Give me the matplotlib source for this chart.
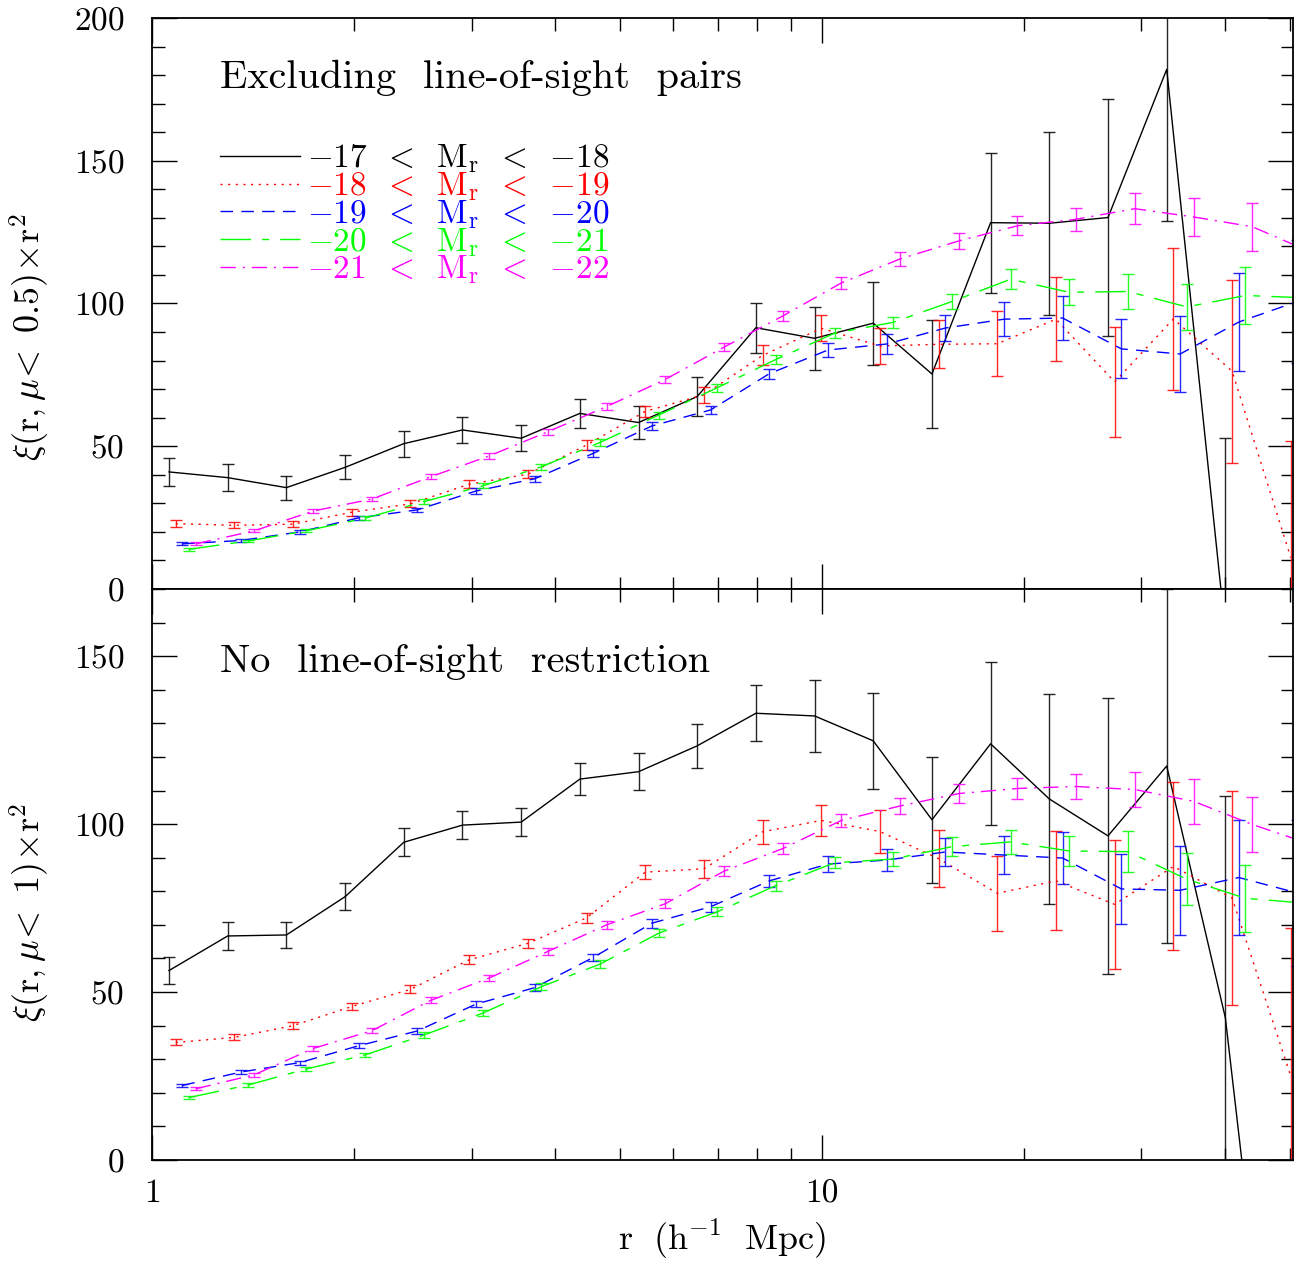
import matplotlib
matplotlib.use('Agg')
import matplotlib.pyplot as plt
from matplotlib.ticker import FixedLocator, NullFormatter, FixedFormatter, MultipleLocator
from matplotlib.lines import Line2D

plt.rcParams['font.family'] = 'cmr10'
plt.rcParams['mathtext.fontset'] = 'cm'
plt.rcParams['axes.formatter.use_mathtext'] = True
plt.rcParams['axes.unicode_minus'] = False

# bin centres (h^-1 Mpc)
r = [1.060, 1.297, 1.587, 1.942, 2.376, 2.907, 3.557, 4.352, 5.324, 6.514,
     7.970, 9.752, 11.93, 14.60, 17.86, 21.85, 26.74, 32.72, 40.03, 48.98]

labels = [r'${-}17\;\;<\;\;\mathrm{M_r}\;\;<\;\;{-}18$',
          r'${-}18\;\;<\;\;\mathrm{M_r}\;\;<\;\;{-}19$',
          r'${-}19\;\;<\;\;\mathrm{M_r}\;\;<\;\;{-}20$',
          r'${-}20\;\;<\;\;\mathrm{M_r}\;\;<\;\;{-}21$',
          r'${-}21\;\;<\;\;\mathrm{M_r}\;\;<\;\;{-}22$']
colors = ['black', '#ff0000', '#0000ff', '#00ff00', '#ff00ff']
styles = ['-', (0, (1.5, 4)), (0, (9, 6)), (0, (22, 8, 5, 8)), (0, (11, 5, 1.5, 5))]

# xi(r, mu<0.5) r^2  -- excluding line-of-sight pairs
top_m17 = [41.0, 39.0, 35.5, 42.6, 50.9, 55.7, 52.8, 61.5, 58.3, 67.4,
           91.5, 87.8, 93.1, 75.3, 128.3, 128.1, 130.1, 182.0, -15.0, -120.0]
top_m17_err = [4.9, 4.7, 4.2, 4.2, 4.5, 4.7, 4.5, 5.0, 5.7, 6.9,
               8.8, 11.0, 14.5, 19.0, 24.5, 32.0, 41.5, 53.0, 68.0, 90.0]
top_m18 = [22.9, 22.3, 22.7, 26.9, 29.8, 36.7, 40.2, 50.4, 62.2, 68.0,
           81.8, 91.3, 85.1, 85.7, 85.9, 94.5, 72.5, 94.6, 76.3, 11.0]
top_m18_err = [1.1, 1.0, 1.0, 1.2, 1.2, 1.3, 1.4, 1.75, 2.0, 2.7,
               3.5, 4.6, 6.4, 8.4, 11.3, 14.6, 19.4, 25.0, 32.0, 41.0]
top_m19 = [15.8, 17.0, 20.0, 24.9, 27.7, 34.3, 38.6, 47.5, 57.1, 62.7,
           75.4, 83.7, 85.8, 91.4, 94.5, 94.9, 84.1, 82.3, 93.5, 100.7]
top_m19_err = [0.5, 0.5, 0.6, 0.7, 0.8, 0.9, 1.0, 1.1, 1.3, 1.5,
               1.8, 2.4, 3.4, 4.4, 5.9, 7.8, 10.3, 13.4, 17.0, 21.5]
top_m20 = [13.9, 16.8, 20.4, 24.8, 30.6, 36.1, 42.8, 51.3, 60.9, 70.5,
           80.4, 89.6, 93.4, 100.7, 108.5, 103.9, 104.2, 98.8, 102.8, 102.0]
top_m20_err = [0.5, 0.5, 0.6, 0.7, 0.8, 0.9, 1.0, 1.1, 1.2, 1.4,
               1.5, 1.7, 2.0, 2.6, 3.5, 4.5, 6.0, 8.0, 10.0, 13.0]
top_m21 = [15.8, 20.4, 27.3, 31.5, 39.3, 46.6, 55.1, 63.9, 73.4, 84.7,
           95.6, 107.2, 115.6, 121.9, 127.2, 129.5, 133.2, 130.3, 126.9, 118.0]
top_m21_err = [0.5, 0.6, 0.7, 0.8, 0.9, 1.0, 1.1, 1.2, 1.3, 1.5,
               1.7, 2.0, 2.4, 2.8, 3.3, 4.0, 5.4, 6.8, 8.4, 10.5]

# xi(r, mu<1) r^2  -- no line-of-sight restriction
bot_m17 = [56.4, 66.7, 67.0, 78.4, 94.6, 99.7, 100.6, 113.4, 115.6, 123.3,
           133.0, 132.2, 124.8, 101.3, 123.9, 107.5, 96.5, 117.3, 42.3, -109.0]
bot_m17_err = [4.0, 4.3, 4.0, 4.0, 4.1, 4.1, 4.2, 4.8, 5.5, 6.6,
               8.4, 10.6, 14.3, 18.8, 24.3, 31.2, 41.0, 52.7, 66.0, 85.0]
bot_m18 = [35.0, 36.5, 40.0, 45.7, 50.8, 59.6, 64.5, 72.1, 85.7, 86.7,
           97.7, 101.1, 97.8, 89.7, 79.4, 83.1, 76.1, 87.4, 78.0, 25.0]
bot_m18_err = [0.9, 0.9, 1.0, 1.1, 1.2, 1.3, 1.4, 1.5, 2.0, 2.6,
               3.5, 4.6, 6.3, 8.4, 11.2, 14.7, 19.3, 25.0, 32.0, 44.0]
bot_m19 = [22.2, 26.2, 29.0, 34.0, 38.4, 46.4, 51.3, 60.3, 70.5, 75.4,
           83.1, 88.1, 89.3, 91.7, 90.8, 89.9, 80.7, 80.3, 84.1, 79.5]
bot_m19_err = [0.5, 0.5, 0.6, 0.7, 0.8, 0.9, 1.0, 1.1, 1.3, 1.5,
               1.8, 2.4, 3.3, 4.3, 5.8, 7.8, 10.3, 13.3, 17.0, 21.7]
bot_m20 = [18.6, 22.3, 27.1, 31.3, 37.2, 43.7, 51.6, 58.3, 67.5, 73.9,
           81.7, 88.5, 89.6, 93.3, 94.7, 92.0, 91.8, 83.6, 77.9, 76.5]
bot_m20_err = [0.5, 0.5, 0.6, 0.7, 0.8, 0.9, 1.0, 1.1, 1.2, 1.4,
               1.5, 1.7, 2.0, 2.8, 3.6, 4.5, 6.1, 7.8, 10.0, 13.0]
bot_m21 = [21.2, 25.4, 33.2, 38.5, 47.5, 54.2, 62.1, 70.0, 76.3, 86.0,
           92.7, 101.1, 105.4, 109.1, 110.6, 111.2, 110.3, 106.8, 99.9, 94.0]
bot_m21_err = [0.5, 0.6, 0.7, 0.8, 0.9, 1.0, 1.1, 1.2, 1.3, 1.5,
               1.7, 2.0, 2.4, 2.7, 3.2, 3.8, 5.2, 6.7, 8.2, 10.5]

top_series = [(top_m17, top_m17_err), (top_m18, top_m18_err), (top_m19, top_m19_err),
              (top_m20, top_m20_err), (top_m21, top_m21_err)]
bot_series = [(bot_m17, bot_m17_err), (bot_m18, bot_m18_err), (bot_m19, bot_m19_err),
              (bot_m20, bot_m20_err), (bot_m21, bot_m21_err)]

fig = plt.figure(figsize=(12.94, 12.65), dpi=100)
ax1 = fig.add_axes([0.1175, 0.5344, 0.8817, 0.4514])
ax2 = fig.add_axes([0.1175, 0.0830, 0.8817, 0.4514])


def draw(ax, series):
    for i, (y, e) in enumerate(series):
        # small horizontal dodge of 0.01 dex between samples
        xs = [v * 10 ** (0.01 * i) for v in r]
        ax.plot(xs, y, color=colors[i], linestyle=styles[i], lw=1.0)
        ax.errorbar(xs, y, yerr=e, fmt='none', ecolor=colors[i], elinewidth=1.0,
                    capsize=4.5, capthick=1.0, alpha=0.85)


draw(ax1, top_series)
draw(ax2, bot_series)

for ax in (ax1, ax2):
    ax.set_xscale('log')
    ax.set_xlim(1, 50.5)
    ax.xaxis.set_major_locator(FixedLocator([1, 10]))
    ax.xaxis.set_minor_locator(FixedLocator([2, 3, 4, 5, 6, 7, 8, 9, 20, 30, 40, 50]))
    ax.xaxis.set_minor_formatter(NullFormatter())
    ax.yaxis.set_minor_locator(MultipleLocator(10))
    ax.tick_params(which='both', direction='in', top=True, right=True, width=1.0,
                   labelsize=24)
    ax.tick_params(axis='y', which='both', pad=20)
    ax.tick_params(axis='x', which='both', pad=14)
    ax.tick_params(which='major', length=18)
    ax.tick_params(which='minor', length=9)
    for s in ax.spines.values():
        s.set_linewidth(1.3)

ax1.set_ylim(0, 200)
ax1.yaxis.set_major_locator(MultipleLocator(50))
ax1.xaxis.set_major_formatter(NullFormatter())
ax2.set_ylim(0, 170)
ax2.yaxis.set_major_locator(FixedLocator([0, 50, 100, 150]))
ax2.xaxis.set_major_formatter(FixedFormatter(['1', '10']))

ax1.set_ylabel(r'$\xi(\mathrm{r},\mu\!<\ 0.5)\!\times\!\mathrm{r}^2$', fontsize=26)
ax2.set_ylabel(r'$\xi(\mathrm{r},\mu\!<\ 1)\!\times\!\mathrm{r}^2$', fontsize=26)
ax1.yaxis.set_label_coords(-0.088, 0.44)
ax2.yaxis.set_label_coords(-0.088, 0.434)
ax2.set_xlabel(r'$\mathrm{r\ \ (h^{-1}\ \ Mpc)}$', fontsize=26, labelpad=6)

ax1.text(0.0596, 0.895, 'Excluding  line-of-sight  pairs', transform=ax1.transAxes,
         fontsize=29, va='center', ha='left')
ax2.text(0.0596, 0.872, 'No  line-of-sight  restriction', transform=ax2.transAxes,
         fontsize=29, va='center', ha='left')

handles = [Line2D([], [], color=colors[i], linestyle=styles[i], lw=1.0) for i in range(5)]
ax1.legend(handles, labels, loc='upper left', bbox_to_anchor=(0.0596, 0.782),
           frameon=False, fontsize=24, labelcolor='linecolor', handlelength=2.4,
           handletextpad=0.2, labelspacing=-0.15, borderpad=0, borderaxespad=0)

fig.savefig('out.png', dpi=100)
